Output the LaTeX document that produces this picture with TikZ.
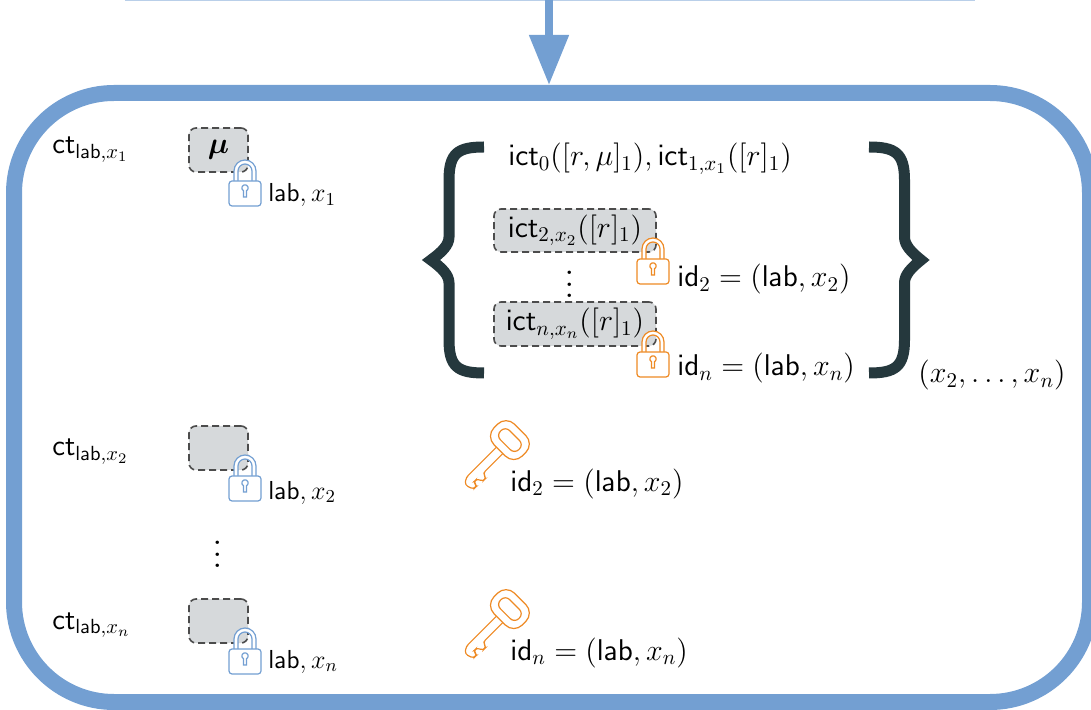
\documentclass[tikz,border=0pt]{standalone}
\usepackage{fix-cm}
\usepackage{amsmath,bm}
\usetikzlibrary{arrows.meta, positioning}
\definecolor{lockblue}{HTML}{739FD2}
\definecolor{lockorange}{HTML}{EE8A24}
\definecolor{boxgrey}{HTML}{D6D9DB}
\definecolor{bracedark}{HTML}{25383D}
\newcommand{\lab}{\mathsf{lab}}
\newcommand{\ict}{\mathsf{ict}}
\newcommand{\ct}{\mathsf{ct}}
\newcommand{\idn}{\mathsf{id}}
\newcommand{\bigdots}{\scalebox{1.4}{$\vdots$}}
\tikzset{
  slot/.style={draw=black!70, fill=boxgrey, dash pattern=on 3.5pt off 2pt, rounded corners=3.5pt, line width=0.8pt, inner sep=0pt, font=\fontsize{15}{17}\selectfont},
  txt/.style={inner sep=0pt, font=\fontsize{15}{17}\selectfont},
  ctlabel/.style={txt, font=\fontsize{14.6}{16}\selectfont},
  lablabel/.style={txt, font=\fontsize{13}{15}\selectfont},
  padlock/.pic={
    \draw[pic actions, fill=white, line width=0.6pt] (-11,-2) -- (-11,-22) arc (180:360:11) -- (11,-2) -- (7,-2) -- (7,-22) arc (360:180:7) -- (-7,-2) -- cycle;
    \draw[pic actions, fill=white, line width=0.6pt, rounded corners=1.5pt] (-16,-12) rectangle (16,13);
    \draw[pic actions, line width=0.6pt] (-1.5,-2.2) arc (118:422:3.2) -- (1.5,4) -- (-1.5,4) -- cycle;
  },
  keyicon/.pic={
    \draw[pic actions, line width=0.6pt, rounded corners=1.5pt] (50,-4.5) -- (6,-4.5) -- (0,0) -- (3,9) -- (8,9) -- (8,4) -- (13,4) -- (15,10) -- (20,10) -- (21,4.5) -- (50,4.5);
    \draw[pic actions, fill=white, line width=0.6pt, rounded corners=6pt] (49,-20) rectangle (78,20);
    \draw[pic actions, line width=0.6pt, rounded corners=3pt] (57,-13) rectangle (70,13);
  },
}
\begin{document}
\begin{tikzpicture}[x=0.5pt, y=-0.5pt]
\useasboundingbox (0,0) rectangle (1091,710);
\clip (0,0) rectangle (1091,710);
% outer frame and top arrow
\coordinate (barleft) at (125,0);
\coordinate (barright) at (975,0);
\coordinate (arrowstart) at (549,0);
\draw[lockblue!50, line width=1pt] (barleft) -- (barright);
\node[draw=lockblue, line width=8pt, rounded corners=50pt, minimum width=538pt, minimum height=304.5pt, inner sep=0pt, anchor=north west] (frame) at (6,85) {};
\draw[lockblue, line width=4pt, -{Triangle[length=25pt, width=19pt]}] (arrowstart) -- (arrowstart |- frame.north);

% first column
\node[ctlabel, anchor=base west] (ct1) at (52,154) {$\ct_{\lab,x_1}$};
\node[ctlabel, anchor=base west] (ct2) at (52,456) {$\ct_{\lab,x_2}$};
\node[ctlabel, anchor=base west] (ctn) at (52,629) {$\ct_{\lab,x_n}$};
\node[txt] (cdots) at (218,546) {\bigdots};

\node[slot, minimum width=29.5pt, minimum height=22pt] (msg) at (218.5,150) {$\bm{\mu}$};
\node[slot, minimum width=29.5pt, minimum height=22pt] (msg2) at (218.5,448) {};
\node[slot, minimum width=29.5pt, minimum height=22pt] (msgn) at (218.5,621) {};
\pic[draw=lockblue] at (245,193) {padlock};
\pic[draw=lockblue] at (245,488) {padlock};
\pic[draw=lockblue] at (245,661) {padlock};
\node[lablabel, anchor=base west] (lab1) at (268,202) {$\lab, x_1$};
\node[lablabel, anchor=base west] (lab2) at (268,499) {$\lab, x_2$};
\node[lablabel, anchor=base west] (labn) at (268,668) {$\lab, x_n$};

% set of inner ciphertexts
\node[txt, anchor=base west] (ict0) at (508,166) {$\ict_0([r,\mu]_1), \ict_{1,x_1}([r]_1)$};
\node[slot, minimum width=81pt, minimum height=21.5pt] (ictb2) at (575,230.5) {\raisebox{-1pt}{$\ict_{2,x_2}([r]_1)$}};
\node[txt] (idots) at (570,276) {\bigdots};
\node[slot, minimum width=81pt, minimum height=22pt] (ictbn) at (575,324) {\raisebox{-1pt}{$\ict_{n,x_n}([r]_1)$}};
\pic[draw=lockorange] at (653,271) {padlock};
\pic[draw=lockorange] at (653,364) {padlock};
\node[txt, anchor=base west] (id2) at (677,287) {$\idn_2 = (\lab, x_2)$};
\node[txt, anchor=base west] (idn) at (677,376) {$\idn_n = (\lab, x_n)$};

\draw[bracedark, line width=5.5pt] (484,147) .. controls (458,147) and (449,153) .. (449,180) -- (449,237) .. controls (449,245) and (442,252) .. (431,260) .. controls (442,268) and (449,275) .. (449,283) -- (449,340) .. controls (449,367) and (458,373) .. (484,373);
\draw[bracedark, line width=5.5pt] (869,147) .. controls (895,147) and (904.5,153) .. (904.5,180) -- (904.5,237) .. controls (904.5,245) and (911,252) .. (921,260) .. controls (911,268) and (904.5,275) .. (904.5,283) -- (904.5,340) .. controls (904.5,367) and (895,373) .. (869,373);
\node[txt, anchor=base west] (sub) at (918,383) {$(x_2,\dots,x_n)$};

% keys
\pic[draw=lockorange, rotate=45] at (465,485) {keyicon};
\pic[draw=lockorange, rotate=45] at (465,654) {keyicon};
\node[txt, anchor=base west] (key2) at (510,491) {$\idn_2 = (\lab, x_2)$};
\node[txt, anchor=base west] (keyn) at (510,660) {$\idn_n = (\lab, x_n)$};
\end{tikzpicture}
\end{document}
